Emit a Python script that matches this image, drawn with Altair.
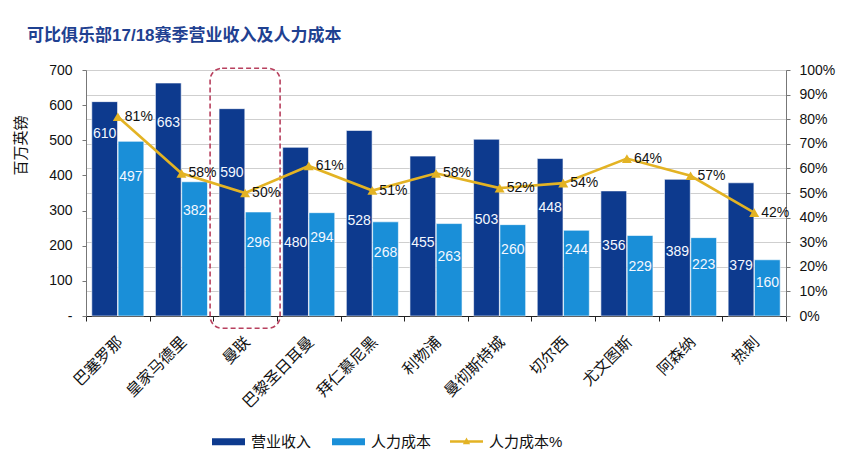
import altair as alt
import pandas as pd

# ---------------- data ----------------
clubs = ["巴塞罗那", "皇家马德里", "曼联", "巴黎圣日耳曼", "拜仁慕尼黑", "利物浦",
         "曼彻斯特城", "切尔西", "尤文图斯", "阿森纳", "热刺"]
revenue = [610, 663, 590, 480, 528, 455, 503, 448, 356, 389, 379]
staff_cost = [497, 382, 296, 294, 268, 263, 260, 244, 229, 223, 160]
staff_pct = [0.81, 0.58, 0.50, 0.61, 0.51, 0.58, 0.52, 0.54, 0.64, 0.57, 0.42]
series_names = ["营业收入", "人力成本", "人力成本%"]

# where each value label sits inside its bar (in 百万英镑 units)
rev_label_at = [518, 548, 406, 207, 270, 208, 273, 308, 199, 183, 142]
cost_label_at = [395, 299, 207, 221, 180, 169, 188, 188, 140, 145, 93]

highlight_club = ["曼联"]

# ---------------- styles ----------------
FONT = "'Liberation Sans', 'Noto Sans CJK SC', sans-serif"
NAVY = "#0D3A8E"
LIGHT = "#1A8FD8"
GOLD = "#E3B324"
BOX = "#B8405E"

W, H = 700, 246

bars_df = pd.DataFrame({
    "club": clubs * 2,
    "series": [series_names[0]] * len(clubs) + [series_names[1]] * len(clubs),
    "value": revenue + staff_cost,
    "label_at": rev_label_at + cost_label_at,
})
line_df = pd.DataFrame({"club": clubs, "pct": staff_pct,
                        "series": [series_names[2]] * len(clubs)})
box_df = pd.DataFrame({"club": highlight_club})

x_scale = alt.Scale(domain=clubs, paddingInner=0, paddingOuter=0)
x_axis = alt.Axis(title=None, labelAngle=315, labelFontSize=15.5, labelFont=FONT,
                  labelColor="#111111", tickBand="extent", tickSize=5,
                  tickColor="#222222", domainColor="#222222", labelPadding=13,
                  labelOffset=-3, grid=False, labelLimit=200)
X = alt.X("club:N", sort=clubs, scale=x_scale, axis=x_axis)

xoff_scale = alt.Scale(domain=series_names[:2], paddingInner=0.02, paddingOuter=0.22)
XOFF = alt.XOffset("series:N", scale=xoff_scale)

left_scale = alt.Scale(domain=[0, 700], nice=False, zero=True)
left_axis = alt.Axis(values=list(range(0, 701, 100)),
                     labelExpr="datum.value == 0 ? '-' : datum.label",
                     grid=False, tickSize=4, tickColor="#777777", domainColor="#777777",
                     labelFontSize=14, labelFont=FONT, labelColor="#111111", labelPadding=10,
                     title="百万英镑", titleFontSize=15, titleFont=FONT,
                     titleFontWeight="normal", titleColor="#111111",
                     titleX=-66, titleY=75, titleAngle=270, titleAlign="center",
                     titleBaseline="middle")

right_scale = alt.Scale(domain=[0, 1], nice=False)
right_axis = alt.Axis(orient="right", values=[i / 10 for i in range(11)], format=".0%",
                      grid=True, gridColor="#CFCFCF", gridWidth=1,
                      tickSize=4, tickColor="#777777", domainColor="#777777",
                      labelFontSize=14, labelFont=FONT, labelColor="#111111",
                      labelPadding=9, title=None)

RECT = "M-1,-0.21H1V0.21H-1Z"
LINE = "M-1,-0.07H1V0.07H-1Z M-0.22,0.16L0,-0.24L0.22,0.16Z"

bar_legend = alt.Legend(
    orient="none", legendX=126, legendY=355, direction="horizontal", title=None,
    symbolType=RECT, symbolSize=1089, symbolStrokeWidth=0, symbolOpacity=1,
    labelFontSize=15, labelFont=FONT, labelColor="#111111", columnPadding=20,
    labelOffset=6,
)
line_legend = alt.Legend(
    orient="none", legendX=364, legendY=355, direction="horizontal", title=None,
    symbolType=LINE, symbolSize=1089, symbolStrokeWidth=0, symbolFillColor=GOLD,
    symbolOpacity=1, labelFontSize=15, labelFont=FONT, labelColor="#111111",
    labelOffset=6,
)
color = alt.Color("series:N", scale=alt.Scale(domain=series_names[:2], range=[NAVY, LIGHT]),
                  legend=bar_legend)

bars = alt.Chart(bars_df).mark_bar(stroke="white", strokeWidth=0.6).encode(
    x=X, xOffset=XOFF,
    y=alt.Y("value:Q", scale=left_scale, axis=left_axis),
    color=color,
)

bar_labels = alt.Chart(bars_df).mark_text(color="#F4F8FF", fontSize=14, font=FONT,
                                          baseline="middle").encode(
    x=X, xOffset=XOFF,
    y=alt.Y("label_at:Q", scale=left_scale, axis=left_axis),
    text=alt.Text("value:Q"),
)

box = alt.Chart(box_df).transform_calculate(top="705", bottom="-35").mark_bar(
    width=70, fill="white", fillOpacity=0, stroke=BOX, strokeWidth=1.6,
    strokeDash=[5, 3], cornerRadius=12,
).encode(
    x=X,
    y=alt.Y("top:Q", scale=left_scale, axis=left_axis),
    y2="bottom:Q",
)

left = alt.layer(bars, bar_labels, box)

line = alt.Chart(line_df).mark_line(strokeWidth=2.6).encode(
    x=X, y=alt.Y("pct:Q", scale=right_scale, axis=right_axis),
    stroke=alt.Stroke("series:N", scale=alt.Scale(domain=series_names[2:], range=[GOLD]),
                      legend=line_legend),
)
points = alt.Chart(line_df).mark_point(shape="triangle-up", filled=True, color=GOLD,
                                       size=100, opacity=1).encode(
    x=X, y=alt.Y("pct:Q", scale=right_scale, axis=right_axis),
)
pct_labels = alt.Chart(line_df).mark_text(align="left", dx=7, fontSize=14, font=FONT,
                                          color="#111111", baseline="middle").encode(
    x=X, y=alt.Y("pct:Q", scale=right_scale, axis=right_axis),
    text=alt.Text("pct:Q", format=".0%"),
)
right = alt.layer(line, points, pct_labels)

chart = alt.layer(left, right).resolve_scale(y="independent").properties(
    width=W, height=H,
    autosize="none",
    padding={"left": 78, "top": 62, "right": 66, "bottom": 145},
    title=alt.TitleParams("可比俱乐部17/18赛季营业收入及人力成本", anchor="start",
                          frame="group", fontSize=17, font=FONT, fontWeight="bold",
                          color="#1F4191", dx=-59, offset=18),
).configure_view(stroke=None).configure(background="white")

chart.save("out.html", embed_options={"renderer": "svg", "actions": False})
